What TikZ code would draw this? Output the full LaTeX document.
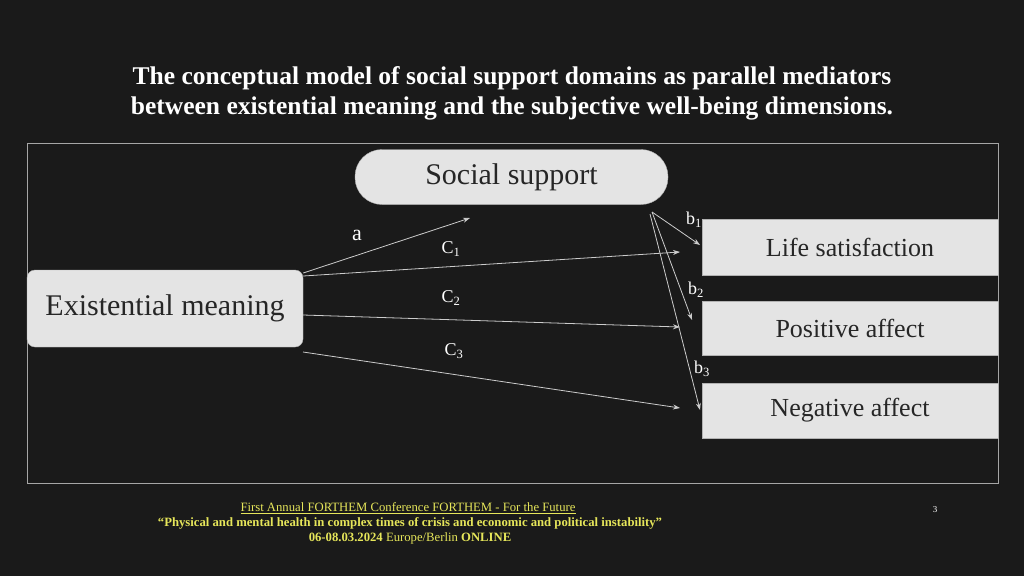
\documentclass[tikz,border=0pt]{standalone}
\usepackage{fontspec}
\setmainfont{Liberation Serif}
\usetikzlibrary{arrows.meta}
\definecolor{bg}{HTML}{1A1A1A}
\definecolor{boxfill}{HTML}{E4E4E4}
\definecolor{foot}{HTML}{E6E65A}
\begin{document}
\begin{tikzpicture}[x=1pt,y=-1pt,
  box/.style={draw=gray!60,fill=boxfill,text=black!85,font=\fontsize{30}{32}\selectfont},
  arr/.style={draw=gray!40,line width=0.8pt,-{Stealth[length=7pt,width=5pt]}},
  lbl/.style={text=white,font=\fontsize{18}{20}\selectfont}]
\fill[bg] (0,0) rectangle (1024,576);
\useasboundingbox (0,0) rectangle (1024,576);
\node[text=white,font=\bfseries\fontsize{25.5}{30}\selectfont,align=center] (title) at (512,93)
 {The conceptual model of social support domains as parallel mediators\\between existential meaning and the subjective well-being dimensions.};
\draw[gray!70,line width=0.8pt] (27,143) rectangle (998,483);
\node[box,rounded corners=27pt,minimum width=313pt,minimum height=55pt] (ss) at (511.5,177) {Social support};
\node[box,rounded corners=8pt,minimum width=276pt,minimum height=77pt] (em) at (165,308.5) {Existential meaning};
\node[box,minimum width=296pt,minimum height=56pt,font=\fontsize{26}{28}\selectfont] (ls) at (850,247) {Life satisfaction};
\node[box,minimum width=296pt,minimum height=54pt,font=\fontsize{26}{28}\selectfont] (pa) at (850,328) {Positive affect};
\node[box,minimum width=296pt,minimum height=55pt,font=\fontsize{26}{28}\selectfont] (na) at (850,410.5) {Negative affect};
\coordinate (aend) at (470,218);
\coordinate (bs) at (652,212);
\coordinate (b1e) at (700,245);
\coordinate (b2e) at (692,320);
\coordinate (b3e) at (700,410);
\coordinate (c1e) at (680,252);
\coordinate (c2e) at (680,327);
\coordinate (c3e) at (680,408);
\draw[arr] (em.east |- 0,273) -- (aend);
\draw[arr] (em.east |- 0,276) -- (c1e);
\draw[arr] (em.east |- 0,315) -- (c2e);
\draw[arr] (303,352) -- (c3e);
\draw[arr] (bs) -- (b1e);
\draw[arr] (bs) -- (b2e);
\draw[arr] (650,214) -- (b3e);
\node[lbl,font=\fontsize{22}{24}\selectfont] (la) at (357,235) {a};
\node[lbl] (lc1) at (451,249) {C\textsubscript{1}};
\node[lbl] (lc2) at (451,298) {C\textsubscript{2}};
\node[lbl] (lc3) at (454,351) {C\textsubscript{3}};
\node[lbl] (lb1) at (694,220) {b\textsubscript{1}};
\node[lbl] (lb2) at (696,290) {b\textsubscript{2}};
\node[lbl] (lb3) at (702,369) {b\textsubscript{3}};
\node[text=foot,font=\fontsize{12.7}{15}\selectfont] (f1) at (408,508) {\underline{First Annual FORTHEM Conference FORTHEM - For the Future}};
\node[text=foot,font=\bfseries\fontsize{12.7}{15}\selectfont] (f2) at (410,523) {“Physical and mental health in complex times of crisis and economic and political instability”};
\node[text=foot,font=\fontsize{12.7}{15}\selectfont] (f3) at (410,538) {\textbf{06-08.03.2024} Europe/Berlin \textbf{ONLINE}};
\node[text=white,font=\fontsize{9}{10}\selectfont] (pg) at (935,510) {3};
\end{tikzpicture}
\end{document}
